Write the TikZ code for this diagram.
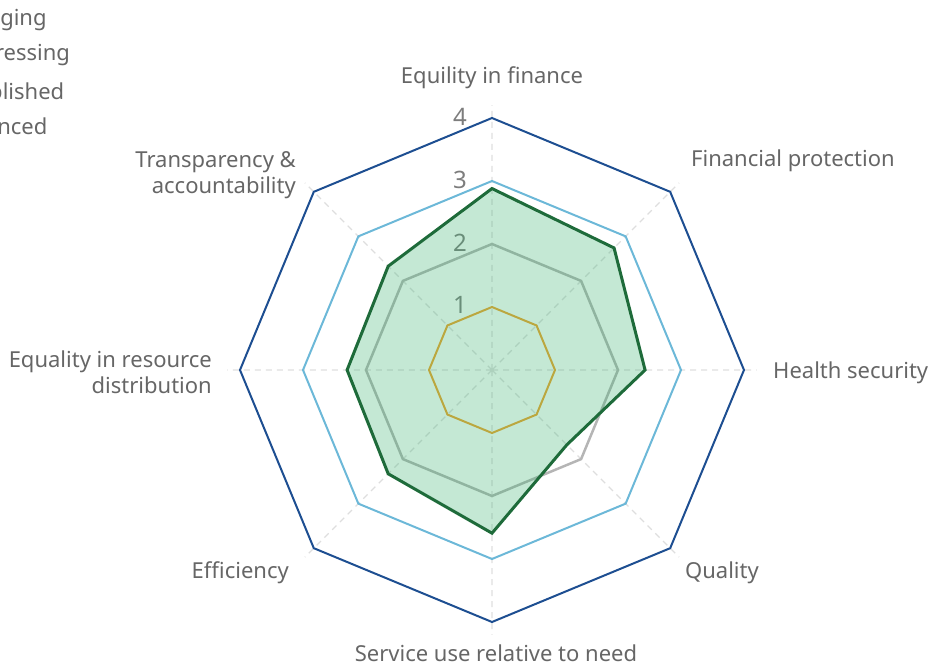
\documentclass[tikz,border=0pt]{standalone}
\usepackage{fontspec}
\setmainfont{Noto Sans}
\usepackage{tikz}
\usetikzlibrary{positioning, calc}
\definecolor{darkblue}{HTML}{1D4E91}
\definecolor{lightblue}{HTML}{6CB8D8}
\definecolor{midgray}{HTML}{B5B5B5}
\definecolor{olive}{HTML}{BBA73F}
\definecolor{darkgreen}{HTML}{1E6B3A}
\definecolor{fillgreen}{HTML}{3CB371}
\definecolor{labelgray}{HTML}{666666}
\tikzstyle{axis}=[%
      draw=black!13, line width=1.2bp, dash pattern=on 6bp off 5bp
]
\tikzstyle{lvl}=[%
      line width=2bp, line join=miter
]
\tikzstyle{lab}=[%
      text=labelgray, inner sep=0pt, font=\fontsize{22bp}{26bp}\selectfont
]
\tikzstyle{num}=[%
      text=labelgray!85, inner sep=0pt, font=\fontsize{24bp}{28bp}\selectfont
]

\begin{document}
\begin{tikzpicture}[x=63bp, y=63bp]
    \useasboundingbox (-492bp,-293bp) rectangle (439bp,370bp);

    % axes
    \path[axis] (0,0) -- (90:4.2)  (0,0) -- (45:4.2)  (0,0) -- (0:4.2)  (0,0) -- (-45:4.2)
                (0,0) -- (-90:4.2) (0,0) -- (-135:4.2) (0,0) -- (180:4.2) (0,0) -- (135:4.2);

    % levels
    \draw[lvl, darkblue]  (90:4) -- (45:4) -- (0:4) -- (-45:4) -- (-90:4) -- (-135:4) -- (180:4) -- (135:4) -- cycle;
    \draw[lvl, lightblue] (90:3) -- (45:3) -- (0:3) -- (-45:3) -- (-90:3) -- (-135:3) -- (180:3) -- (135:3) -- cycle;
    \draw[lvl, midgray, line width=2.5bp] (90:2) -- (45:2) -- (0:2) -- (-45:2) -- (-90:2) -- (-135:2) -- (180:2) -- (135:2) -- cycle;

    % scale
    \node[num] (n1) at (-32bp,65bp)  {1};
    \node[num] (n2) at (-32bp,127bp) {2};
    \node[num] (n3) at (-32bp,190bp) {3};
    \node[num] (n4) at (-32bp,253bp) {4};

    % scores
    \fill[fillgreen, fill opacity=0.3] (90:2.88) -- (45:2.74) -- (0:2.43) -- (-45:1.68) -- (-90:2.59) -- (-135:2.33) -- (180:2.30) -- (135:2.33) -- cycle;
    \draw[lvl, olive]     (90:1) -- (45:1) -- (0:1) -- (-45:1) -- (-90:1) -- (-135:1) -- (180:1) -- (135:1) -- cycle;
    \draw[lvl, darkgreen, line width=3bp] (90:2.88) -- (45:2.74) -- (0:2.43) -- (-45:1.68) -- (-90:2.59) -- (-135:2.33) -- (180:2.30) -- (135:2.33) -- cycle;

    % axis labels
    \node[lab]                          (fin)  at (0bp,292bp)     {Equility in finance};
    \node[lab, anchor=west]             (prot) at (199bp,209bp)   {Financial protection};
    \node[lab, anchor=west]             (sec)  at (281bp,-3bp)    {Health security};
    \node[lab, anchor=west]             (qual) at (193bp,-203bp)  {Quality};
    \node[lab]                          (use)  at (4bp,-283bp)    {Service use relative to need};
    \node[lab, anchor=east]             (eff)  at (-203bp,-203bp) {Efficiency};
    \node[lab, anchor=east, align=right] (eq)  at (-280bp,-2bp)   {Equality in resource\\distribution};
    \node[lab, anchor=east, align=right] (tra) at (-196bp,195bp)  {Transparency \&\\accountability};

    % legend
    \node[lab, anchor=west] (emer) at (-546bp,350bp) {Emerging};
    \node[lab, anchor=west] (prog) at (-546bp,315bp) {Progressing};
    \node[lab, anchor=west] (est)  at (-546bp,279bp) {Established};
    \node[lab, anchor=west] (adv)  at (-546bp,244bp) {Advanced};
\end{tikzpicture}
\end{document}
